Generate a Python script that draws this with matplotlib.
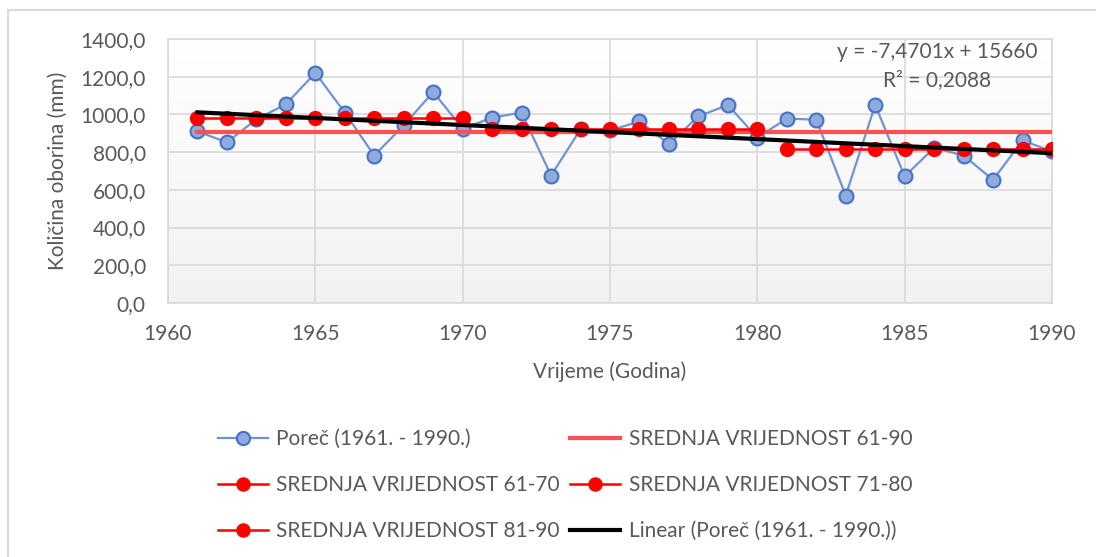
# Poreč precipitation 1961-1990 with decade means and linear trend

import matplotlib
matplotlib.use("Agg")
import matplotlib.pyplot as plt
import numpy as np
from matplotlib.patches import Rectangle

years = list(range(1961, 1991))
porec = [910, 852, 974, 1054, 1220, 1010, 782, 942, 1119, 925,
         983, 1010, 676, 921, 915, 963, 843, 990, 1050, 877,
         978, 972, 570, 1050, 672, 823, 782, 653, 862, 804]

mean_61_90 = 906.1
mean_61_70 = 978.8
mean_71_80 = 922.8
mean_81_90 = 816.6

trend_slope = -7.4701
trend_intercept = 15660
r_squared = 0.2088

y_ticks = [0, 200, 400, 600, 800, 1000, 1200, 1400]
x_ticks = [1960, 1965, 1970, 1975, 1980, 1985, 1990]

txt_col = "#595959"
grid_col = "#d9d9d9"
fs = 15

plt.rcParams["font.family"] = ["Lato", "DejaVu Sans"]

W, H = 1096, 557
fig = plt.figure(figsize=(W / 100, H / 100), dpi=100)

# outer chart frame
fig.patches.append(Rectangle((8 / W, -0.1), 1.2, (H - 10) / H + 0.1,
                             transform=fig.transFigure, fill=False,
                             edgecolor=grid_col, linewidth=1.5))

ax = fig.add_axes([168 / W, (H - 303) / H, (1052 - 168) / W, (303 - 39) / H])

# plot area gradient (white -> light gray)
grad = np.linspace(1.0, 0.0, 256).reshape(-1, 1)
ax.imshow(grad, extent=[0, 1, 0, 1], transform=ax.transAxes, aspect="auto",
          cmap=matplotlib.colors.LinearSegmentedColormap.from_list(
              "g", ["#f2f2f2", "#ffffff"]), zorder=0)

ax.set_xlim(1960, 1990)
ax.set_ylim(0, 1400)
ax.set_xticks(x_ticks)
ax.set_yticks(y_ticks)
ax.set_yticklabels([f"{v:.1f}".replace(".", ",") for v in y_ticks])
ax.grid(True, color=grid_col, linewidth=1.2, zorder=1)
ax.set_axisbelow(True)
for s in ax.spines.values():
    s.set_color(grid_col)
    s.set_linewidth(1.2)
ax.tick_params(length=0, labelsize=fs, labelcolor=txt_col)
ax.tick_params(axis="x", pad=15)
ax.tick_params(axis="y", pad=16)

ax.set_xlabel("Vrijeme (Godina)", fontsize=fs, color=txt_col, labelpad=13)
ax.set_ylabel("Količina oborina (mm)", fontsize=fs, color=txt_col, labelpad=9)

yrs = np.array(years)
l_porec, = ax.plot(yrs, porec, color="#6f94d4", linewidth=1.6, marker="o",
                   markersize=10, markerfacecolor="#8faadc",
                   markeredgecolor="#4472c4", markeredgewidth=1.5, zorder=3,
                   label="Poreč (1961. - 1990.)")
l_all, = ax.plot(yrs, [mean_61_90] * len(yrs), color="#ff5050", linewidth=3,
                 zorder=4, label="SREDNJA VRIJEDNOST 61-90")
red_kw = dict(color="#ff0000", linewidth=1.8, marker="o", markersize=11,
              markeredgewidth=0, zorder=5)
l_a, = ax.plot(yrs[0:10], [mean_61_70] * 10, label="SREDNJA VRIJEDNOST 61-70", **red_kw)
l_b, = ax.plot(yrs[10:20], [mean_71_80] * 10, label="SREDNJA VRIJEDNOST 71-80", **red_kw)
l_c, = ax.plot(yrs[20:30], [mean_81_90] * 10, label="SREDNJA VRIJEDNOST 81-90", **red_kw)
l_tr, = ax.plot(yrs, trend_slope * yrs + trend_intercept, color="black",
                linewidth=3, zorder=6, label="Linear (Poreč (1961. - 1990.))")

fig.text(937 / W, 1 - 52 / H, f"y = {trend_slope}x + {trend_intercept}".replace(".", ","),
         fontsize=fs, color=txt_col, ha="center", va="center")
fig.text(937 / W, 1 - 80 / H, f"R² = {r_squared}".replace(".", ","),
         fontsize=fs, color=txt_col, ha="center", va="center")

# legend is filled column by column, order so rows match the original
handles = [l_porec, l_a, l_c, l_all, l_b, l_tr]
fig.legend(handles=handles, labels=[h.get_label() for h in handles],
           ncol=2, loc="upper left", bbox_to_anchor=(218 / W, 1 - 429 / H),
           frameon=False, fontsize=fs, labelcolor=txt_col,
           handlelength=2.4, handletextpad=0.4, columnspacing=0.5,
           labelspacing=1.25, borderpad=0, borderaxespad=0, markerscale=0.95)

fig.savefig("out.png", dpi=100)
